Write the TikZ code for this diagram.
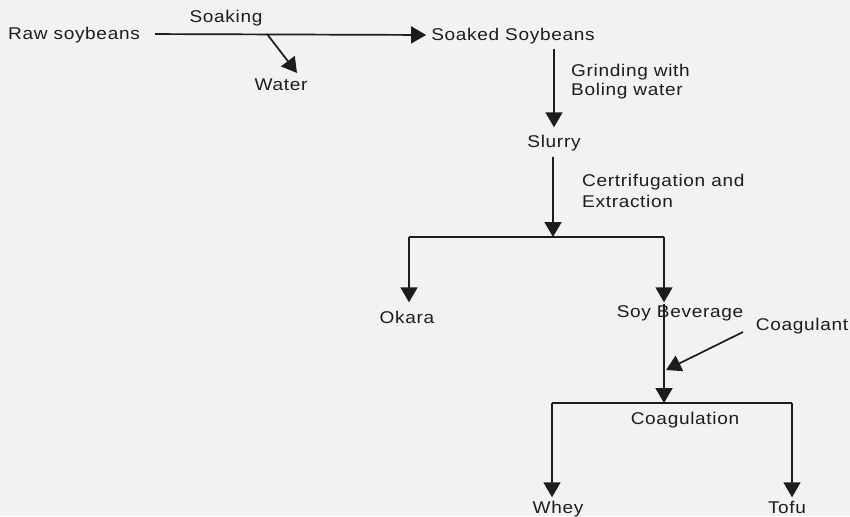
\documentclass[tikz,border=0pt]{standalone}
\usepackage{fontspec}
\setmainfont[FakeStretch=1.12,LetterSpace=4]{Liberation Sans}
\usetikzlibrary{arrows.meta,calc}
\definecolor{paper}{RGB}{242,242,241}
\definecolor{ink}{RGB}{28,28,28}
\begin{document}
\begin{tikzpicture}[x=1pt,y=-1pt,
  lbl/.style={text=ink,inner sep=0pt,font=\fontsize{17}{20}\selectfont,text height=13pt,text depth=2pt},
  mlbl/.style={text=ink,inner sep=0pt,font=\fontsize{17}{20}\selectfont,align=left,anchor=west},
  conn/.style={draw=ink,line width=1.7pt},
  arr/.style={conn,-{Triangle[length=15pt,width=17pt]}}]
\fill[paper] (0,0) rectangle (850,516);
\useasboundingbox (0,0) rectangle (850,516);
% nodes
\node[lbl] (raw) at (74,34) {Raw soybeans};
\node[lbl] (soaked) at (513,35) {Soaked Soybeans};
\node[lbl] (soaking) at (226,17) {Soaking};
\node[lbl] (water) at (281,85) {Water};
\node[mlbl] (grind) at (571,81.5) {Grinding with\\[-1pt]Boling water};
\node[lbl] (slurry) at (554,142) {Slurry};
\node[mlbl] (centr) at (582,190.5) {Certrifugation and\\[1pt]Extraction};
\node[lbl] (okara) at (407,318) {Okara};
\node[lbl] (soybev) at (680,312) {Soy Beverage};
\node[lbl] (coag) at (802,325) {Coagulant};
\node[lbl] (coagul) at (685,419) {Coagulation};
\node[lbl] (whey) at (558,508) {Whey};
\node[lbl] (tofu) at (787,508) {Tofu};
% coordinates
\coordinate (wstart) at (267,34);
\coordinate (wtip) at (297,73);
\coordinate (b1) at (553,237);
\coordinate (b1l) at (409,237);
\coordinate (b1r) at (664,237);
\coordinate (cstart) at (743,332);
\coordinate (cin) at (666,370);
\coordinate (b2) at (664,403);
\coordinate (b2l) at (552,403);
\coordinate (b2r) at (792,403);
% connectors
\draw[arr,shorten <=15pt,shorten >=5pt] (raw.east) -- (soaked.west);
\draw[arr] (wstart) -- (wtip);
\draw[arr,shorten <=6pt,shorten >=7pt] (slurry.north |- soaked.south) -- (slurry.north);
\draw[arr,shorten <=7pt] (slurry.south -| b1) -- (b1);
\draw[conn] (b1l) -- (b1r);
\draw[arr,shorten >=8pt] (b1l) -- (b1l |- okara.north);
\draw[arr,shorten >=2pt] (b1r) -- (b1r |- soybev.north);
\draw[arr] (b1r |- soybev.north) -- (b2);
\draw[arr] (cstart) -- (cin);
\draw[conn] (b2l) -- (b2r);
\draw[arr,shorten >=3pt] (b2l) -- (b2l |- whey.north);
\draw[arr,shorten >=3pt] (b2r) -- (b2r |- tofu.north);
\end{tikzpicture}
\end{document}
